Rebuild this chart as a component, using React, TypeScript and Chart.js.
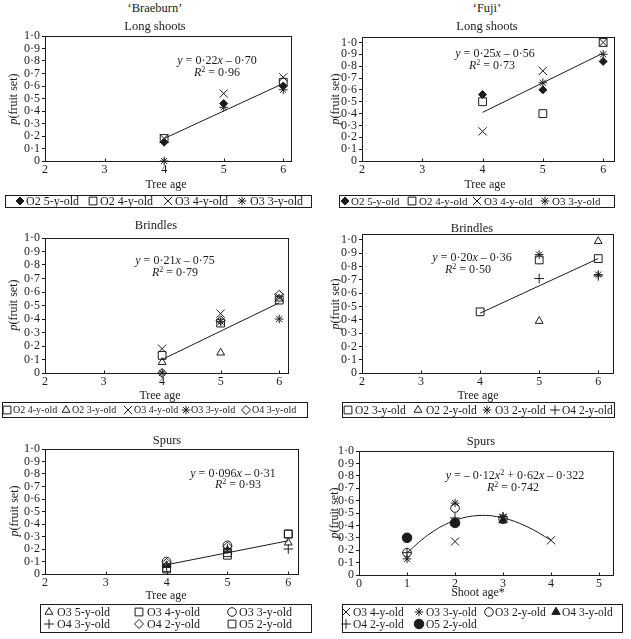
import React, { useEffect, useRef } from 'react';
import { Chart, registerables } from 'chart.js';
Chart.register(...registerables);

const FONT = '"Liberation Serif", "Times New Roman", Times, serif';
const INK = '#1c1c1c';

// ---------------- data ----------------
const treeAge = [4, 5, 6];
const shootAge = [1, 2, 3, 4];

// 'Braeburn' long shoots
const bLongO2y5 = [0.15, 0.46, 0.6];
const bLongO2y4 = [0.18, null, 0.63];
const bLongO3y4 = [0.18, 0.54, 0.67];
const bLongO3y3 = [0.0, 0.43, 0.57];
const bLongFitX = [4, 6];
const bLongFitY = [0.18, 0.62];

// 'Fuji' long shoots
const fLongO2y5 = [0.56, 0.6, 0.84];
const fLongO2y4 = [0.5, 0.4, 1.0];
const fLongO3y4 = [0.25, 0.76, 1.0];
const fLongO3y3 = [null, 0.66, 0.9];
const fLongFitX = [4, 6];
const fLongFitY = [0.41, 0.91];

// 'Braeburn' brindles
const bBrO2y4 = [0.13, 0.37, 0.54];
const bBrO2y3 = [0.08, 0.15, 0.55];
const bBrO3y4 = [0.18, 0.44, 0.56];
const bBrO3y3 = [0.0, 0.38, 0.4];
const bBrO4y3 = [0.0, 0.39, 0.58];
const bBrFitX = [4, 6];
const bBrFitY = [0.1, 0.52];

// 'Fuji' brindles
const fBrO2y3 = [0.46, 0.85, 0.86];
const fBrO2y2 = [null, 0.39, 0.99];
const fBrO3y2 = [null, 0.89, 0.74];
const fBrO4y2 = [null, 0.71, 0.73];
const fBrFitX = [4, 6];
const fBrFitY = [0.45, 0.86];

// 'Braeburn' spurs
const bSpO3y5 = [0.07, 0.19, 0.25];
const bSpO3y4 = [0.04, 0.15, 0.32];
const bSpO3y3 = [0.1, 0.23, null];
const bSpO4y3 = [0.06, 0.2, 0.2];
const bSpO4y2 = [0.09, 0.22, null];
const bSpO5y2 = [0.05, 0.17, 0.32];
const bSpFitX = [4, 6];
const bSpFitY = [0.074, 0.266];

// 'Fuji' spurs (x = shoot age)
const fSpO3y4 = [null, 0.27, 0.46, 0.28];
const fSpO3y3 = [0.13, 0.58, 0.47, null];
const fSpO3y2 = [0.18, 0.54, 0.45, null];
const fSpO4y3 = [null, 0.42, 0.44, null];
const fSpO4y2 = [0.18, 0.46, 0.47, null];
const fSpO5y2 = [0.3, 0.42, null, null];
const fSpCurveX = [1, 1.5, 2, 2.5, 3, 3.5, 4];
const fSpCurveY = [0.18, 0.34, 0.44, 0.48, 0.46, 0.39, 0.28];

// ---------------- markers ----------------
type MarkKey = 'diamondF' | 'square' | 'xmark' | 'star' | 'tri' | 'triF' | 'diamond' | 'circle' | 'circleF' | 'plus';
const MARKS: Record<MarkKey, { style: string; r: number; filled: boolean }> = {
  diamondF: { style: 'rectRot', r: 4, filled: true },
  square: { style: 'rect', r: 5.5, filled: false },
  xmark: { style: 'crossRot', r: 5.8, filled: false },
  star: { style: 'star', r: 4.3, filled: false },
  tri: { style: 'triangle', r: 4.5, filled: false },
  triF: { style: 'triangle', r: 4.8, filled: true },
  diamond: { style: 'rectRot', r: 4.5, filled: false },
  circle: { style: 'circle', r: 4.3, filled: false },
  circleF: { style: 'circle', r: 4.8, filled: true },
  plus: { style: 'cross', r: 4.8, filled: false },
};

type Series = { label: string; ys: (number | null)[]; mark: MarkKey };
type PanelSpec = {
  L: number; T: number; R: number; B: number;
  xMin: number; xMax: number; yMax: number;
  xs: number[]; series: Series[];
  fitX: number[]; fitY: number[]; curve?: boolean;
};

const PANELS: PanelSpec[] = [
  {
    L: 45, T: 36, R: 291, B: 161, xMin: 2, xMax: 6.13, yMax: 1.0, xs: treeAge,
    series: [
      { label: 'O2 5-y-old', ys: bLongO2y5, mark: 'diamondF' },
      { label: 'O2 4-y-old', ys: bLongO2y4, mark: 'square' },
      { label: 'O3 4-y-old', ys: bLongO3y4, mark: 'xmark' },
      { label: 'O3 3-y-old', ys: bLongO3y3, mark: 'star' },
    ],
    fitX: bLongFitX, fitY: bLongFitY,
  },
  {
    L: 362, T: 37, R: 614, B: 161, xMin: 2, xMax: 6.18, yMax: 1.046, xs: treeAge,
    series: [
      { label: 'O2 5-y-old', ys: fLongO2y5, mark: 'diamondF' },
      { label: 'O2 4-y-old', ys: fLongO2y4, mark: 'square' },
      { label: 'O3 4-y-old', ys: fLongO3y4, mark: 'xmark' },
      { label: 'O3 3-y-old', ys: fLongO3y3, mark: 'star' },
    ],
    fitX: fLongFitX, fitY: fLongFitY,
  },
  {
    L: 45, T: 238, R: 288, B: 373, xMin: 2, xMax: 6.15, yMax: 1.0, xs: treeAge,
    series: [
      { label: 'O2 4-y-old', ys: bBrO2y4, mark: 'square' },
      { label: 'O2 3-y-old', ys: bBrO2y3, mark: 'tri' },
      { label: 'O3 4-y-old', ys: bBrO3y4, mark: 'xmark' },
      { label: 'O3 3-y-old', ys: bBrO3y3, mark: 'star' },
      { label: 'O4 3-y-old', ys: bBrO4y3, mark: 'diamond' },
    ],
    fitX: bBrFitX, fitY: bBrFitY,
  },
  {
    L: 362, T: 234, R: 613, B: 373, xMin: 2, xMax: 6.25, yMax: 1.045, xs: treeAge,
    series: [
      { label: 'O2 3-y-old', ys: fBrO2y3, mark: 'square' },
      { label: 'O2 2-y-old', ys: fBrO2y2, mark: 'tri' },
      { label: 'O3 2-y-old', ys: fBrO3y2, mark: 'star' },
      { label: 'O4 2-y-old', ys: fBrO4y2, mark: 'plus' },
    ],
    fitX: fBrFitX, fitY: fBrFitY,
  },
  {
    L: 45, T: 449, R: 298, B: 574, xMin: 2, xMax: 6.16, yMax: 1.0, xs: treeAge,
    series: [
      { label: 'O3 5-y-old', ys: bSpO3y5, mark: 'tri' },
      { label: 'O3 4-y-old', ys: bSpO3y4, mark: 'square' },
      { label: 'O3 3-y-old', ys: bSpO3y3, mark: 'circle' },
      { label: 'O4 3-y-old', ys: bSpO4y3, mark: 'plus' },
      { label: 'O4 2-y-old', ys: bSpO4y2, mark: 'diamond' },
      { label: 'O5 2-y-old', ys: bSpO5y2, mark: 'square' },
    ],
    fitX: bSpFitX, fitY: bSpFitY,
  },
  {
    L: 359, T: 451, R: 613, B: 575, xMin: 0, xMax: 5.29, yMax: 1.0, xs: shootAge,
    series: [
      { label: 'O3 4-y-old', ys: fSpO3y4, mark: 'xmark' },
      { label: 'O3 3-y-old', ys: fSpO3y3, mark: 'star' },
      { label: 'O3 2-y-old', ys: fSpO3y2, mark: 'circle' },
      { label: 'O4 3-y-old', ys: fSpO4y3, mark: 'triF' },
      { label: 'O4 2-y-old', ys: fSpO4y2, mark: 'plus' },
      { label: 'O5 2-y-old', ys: fSpO5y2, mark: 'circleF' },
    ],
    fitX: fSpCurveX, fitY: fSpCurveY, curve: true,
  },
];

// legend layout: box + font size + per-item [symbol x, text x, row y]
const LEGENDS = [
  { box: [5, 195, 307, 13], fs: 12, items: [[20, 26, 201], [93, 100, 201], [168, 175, 201], [242, 250, 201]] },
  { box: [339, 195, 276, 13], fs: 11, items: [[345, 351, 201], [412, 419, 201], [477, 484, 201], [545, 552, 201]] },
  { box: [2, 402, 306, 16], fs: 10, items: [[7, 13, 410], [66, 72, 410], [128, 134, 410], [186, 191, 410], [246, 252, 410]] },
  { box: [342, 402, 273, 16], fs: 11.5, items: [[348, 355, 410], [418, 426, 410], [487, 495, 410], [555, 562, 410]] },
  { box: [40, 604, 272, 29], fs: 12, items: [[49, 57, 612], [139, 147, 612], [232, 239, 612], [49, 57, 624], [139, 147, 624], [232, 239, 624]] },
  { box: [342, 604, 281, 29], fs: 11.5, items: [[346, 353, 612], [419, 426, 612], [489, 495, 612], [556, 562, 612], [346, 353, 624], [419, 426, 624]] },
];

const YW = 32, PT = 10, PR = 10, XH = 18;

const yTickLabel = (v: number) => (v === 0 ? '0' : Number(v).toFixed(1).replace('.', '\u00b7'));

const framePlugin = {
  id: 'frame',
  afterDraw(chart: any) {
    const { ctx, chartArea: a, scales } = chart;
    ctx.save();
    ctx.strokeStyle = INK;
    ctx.lineWidth = 1;
    const l = Math.round(a.left) + 0.5, t = Math.round(a.top) + 0.5;
    const r = Math.round(a.right) + 0.5, b = Math.round(a.bottom) + 0.5;
    ctx.strokeRect(l, t, r - l, b - t);
    ctx.beginPath();
    const xs = scales.x;
    xs.ticks.forEach((tk: any) => {
      const px = Math.round(xs.getPixelForValue(tk.value)) + 0.5;
      ctx.moveTo(px, b);
      ctx.lineTo(px, b - 3);
    });
    ctx.stroke();
    ctx.restore();
  },
};

function buildConfig(p: PanelSpec): any {
  const datasets: any[] = p.series.map((s) => {
    const m = MARKS[s.mark];
    const data = p.xs
      .map((x, i) => (s.ys[i] === null || s.ys[i] === undefined ? null : { x, y: s.ys[i] }))
      .filter((d) => d !== null);
    return {
      type: 'scatter',
      label: s.label,
      data,
      pointStyle: m.style,
      pointRadius: m.r,
      pointBorderWidth: 1,
      pointBorderColor: INK,
      pointBackgroundColor: m.filled ? INK : 'rgba(0,0,0,0)',
      showLine: false,
      clip: false,
      order: 1,
    };
  });
  datasets.push({
    type: 'line',
    label: 'fit',
    data: p.fitX.map((x, i) => ({ x, y: p.fitY[i] })),
    borderColor: INK,
    borderWidth: 1,
    pointRadius: 0,
    showLine: true,
    fill: false,
    tension: p.curve ? 0.4 : 0,
    clip: false,
    order: 5,
  });
  const font = { family: FONT, size: 12 };
  return {
    type: 'scatter',
    data: { datasets },
    plugins: [framePlugin],
    options: {
      animation: false,
      responsive: false,
      devicePixelRatio: 1,
      events: [],
      layout: { padding: { left: 0, top: PT, right: PR, bottom: 0 } },
      plugins: { legend: { display: false }, tooltip: { enabled: false }, title: { display: false } },
      scales: {
        x: {
          type: 'linear',
          min: p.xMin,
          max: p.xMax,
          ticks: { stepSize: 1, includeBounds: false, autoSkip: false, maxRotation: 0, padding: 2, font, color: INK },
          grid: { display: false, drawTicks: false, tickLength: 0 },
          border: { display: false },
          afterFit: (s: any) => { s.height = XH; },
        },
        y: {
          type: 'linear',
          min: 0,
          max: p.yMax,
          ticks: { stepSize: 0.1, includeBounds: false, autoSkip: false, padding: 2, font, color: INK, callback: (v: any) => yTickLabel(Number(v)) },
          grid: { display: true, drawOnChartArea: false, drawTicks: true, tickLength: 3, color: INK, lineWidth: 1 },
          border: { display: false },
          afterFit: (s: any) => { s.width = YW; },
        },
      },
    },
  };
}

function Panel({ p }: { p: PanelSpec }) {
  const ref = useRef<HTMLCanvasElement | null>(null);
  const W = p.R - p.L + YW + PR;
  const H = p.B - p.T + PT + XH;
  useEffect(() => {
    if (!ref.current) return;
    const chart = new Chart(ref.current, buildConfig(p));
    return () => chart.destroy();
  }, []);
  return (
    <canvas
      ref={ref}
      width={W}
      height={H}
      style={{ position: 'absolute', left: p.L - YW, top: p.T - PT, width: W, height: H }}
    />
  );
}

function drawMark(ctx: CanvasRenderingContext2D, key: MarkKey, x: number, y: number) {
  const { style, r, filled } = MARKS[key];
  ctx.beginPath();
  const h = r * Math.SQRT1_2;
  if (style === 'rectRot') {
    ctx.moveTo(x - r, y); ctx.lineTo(x, y - r); ctx.lineTo(x + r, y); ctx.lineTo(x, y + r); ctx.closePath();
  } else if (style === 'rect') {
    ctx.rect(x - h, y - h, 2 * h, 2 * h);
  } else if (style === 'crossRot') {
    ctx.moveTo(x - h, y - h); ctx.lineTo(x + h, y + h); ctx.moveTo(x + h, y - h); ctx.lineTo(x - h, y + h);
  } else if (style === 'cross') {
    ctx.moveTo(x - r, y); ctx.lineTo(x + r, y); ctx.moveTo(x, y - r); ctx.lineTo(x, y + r);
  } else if (style === 'star') {
    ctx.moveTo(x - r, y); ctx.lineTo(x + r, y); ctx.moveTo(x, y - r); ctx.lineTo(x, y + r);
    ctx.moveTo(x - h, y - h); ctx.lineTo(x + h, y + h); ctx.moveTo(x + h, y - h); ctx.lineTo(x - h, y + h);
  } else if (style === 'triangle') {
    for (let k = 0; k < 3; k++) {
      const a = (k * 2 * Math.PI) / 3;
      const px = x + Math.sin(a) * r, py = y - Math.cos(a) * r;
      if (k === 0) ctx.moveTo(px, py); else ctx.lineTo(px, py);
    }
    ctx.closePath();
  } else if (style === 'circle') {
    ctx.arc(x, y, r, 0, Math.PI * 2);
  }
  ctx.fillStyle = INK;
  ctx.strokeStyle = INK;
  ctx.lineWidth = 1;
  if (filled) ctx.fill();
  ctx.stroke();
}

function LegendMark({ mark, x, y }: { mark: MarkKey; x: number; y: number }) {
  const ref = useRef<HTMLCanvasElement | null>(null);
  useEffect(() => {
    const c = ref.current;
    if (!c) return;
    const ctx = c.getContext('2d');
    if (!ctx) return;
    ctx.clearRect(0, 0, 16, 16);
    drawMark(ctx, mark, 8, 8);
  }, [mark]);
  return <canvas ref={ref} width={16} height={16} style={{ position: 'absolute', left: x - 8, top: y - 8, width: 16, height: 16 }} />;
}

function Txt({ x, y, size = 12, rotate = false, children }: { x: number; y: number; size?: number; rotate?: boolean; children: any }) {
  return (
    <div
      style={{
        position: 'absolute', left: x, top: y, fontSize: size, lineHeight: 1, whiteSpace: 'nowrap',
        transform: `translate(-50%, -50%)${rotate ? ' rotate(-90deg)' : ''}`,
      }}
    >
      {children}
    </div>
  );
}

const sup = { fontSize: 8, position: 'relative', top: -4 } as const;

function Eq({ x, y, a }: { x: number; y: number; a: any }) {
  return <Txt x={x} y={y} size={12}>{a}</Txt>;
}

export default function App() {
  const yTitleY = [99, 99, 305, 304, 511, 513];
  const yTitleX = [13, 335, 13, 335, 14, 334];
  return (
    <div style={{ position: 'absolute', left: 0, top: 0, width: 631, height: 639, background: '#fff', fontFamily: FONT, color: INK, overflow: 'hidden' }}>
      {PANELS.map((p, i) => <Panel key={i} p={p} />)}

      <Txt x={155} y={8} size={12.5}>{'\u2018Braeburn\u2019'}</Txt>
      <Txt x={487} y={8} size={12.5}>{'\u2018Fuji\u2019'}</Txt>
      <Txt x={155} y={26} size={12.5}>Long shoots</Txt>
      <Txt x={487} y={26} size={12.5}>Long shoots</Txt>
      <Txt x={156} y={225} size={12.5}>Brindles</Txt>
      <Txt x={472} y={228} size={12.5}>Brindles</Txt>
      <Txt x={167} y={440} size={12.5}>Spurs</Txt>
      <Txt x={481} y={441} size={12.5}>Spurs</Txt>

      <Txt x={166} y={184}>Tree age</Txt>
      <Txt x={485} y={184}>Tree age</Txt>
      <Txt x={160} y={395}>Tree age</Txt>
      <Txt x={478} y={395}>Tree age</Txt>
      <Txt x={166} y={595}>Tree age</Txt>
      <Txt x={478} y={592}>Shoot age*</Txt>

      {yTitleY.map((yy, i) => (
        <Txt key={'yt' + i} x={yTitleX[i]} y={yy} rotate>
          <i>p</i>(fruit set)
        </Txt>
      ))}

      <Eq x={217} y={60} a={<span><i>y</i> = 0·22<i>x</i> – 0·70</span>} />
      <Eq x={217} y={72} a={<span><i>R</i><span style={sup}>2</span> = 0·96</span>} />
      <Eq x={495} y={53} a={<span><i>y</i> = 0·25<i>x</i> – 0·56</span>} />
      <Eq x={492} y={65} a={<span><i>R</i><span style={sup}>2</span> = 0·73</span>} />
      <Eq x={175} y={260} a={<span><i>y</i> = 0·21<i>x</i> – 0·75</span>} />
      <Eq x={175} y={272} a={<span><i>R</i><span style={sup}>2</span> = 0·79</span>} />
      <Eq x={472} y={257} a={<span><i>y</i> = 0·20<i>x</i> – 0·36</span>} />
      <Eq x={468} y={269} a={<span><i>R</i><span style={sup}>2</span> = 0·50</span>} />
      <Eq x={233} y={473} a={<span><i>y</i> = 0·096<i>x</i> – 0·31</span>} />
      <Eq x={238} y={484} a={<span><i>R</i><span style={sup}>2</span> = 0·93</span>} />
      <Eq x={515} y={475} a={<span><i>y</i> = – 0·12<i>x</i><span style={sup}>2</span> + 0·62<i>x</i> – 0·322</span>} />
      <Eq x={513} y={487} a={<span><i>R</i><span style={sup}>2</span> = 0·742</span>} />

      {LEGENDS.map((lg, li) => {
        const [bx, by, bw, bh] = lg.box;
        const series = PANELS[li].series;
        return (
          <React.Fragment key={'lg' + li}>
            <div style={{ position: 'absolute', left: bx, top: by, width: bw, height: bh, border: `1px solid ${INK}`, boxSizing: 'border-box' }} />
            {lg.items.map((it, k) => (
              <React.Fragment key={k}>
                <LegendMark mark={series[k].mark} x={it[0]} y={it[2]} />
                <div style={{ position: 'absolute', left: it[1], top: it[2] - 7, fontSize: lg.fs, lineHeight: '14px', whiteSpace: 'nowrap' }}>
                  {series[k].label}
                </div>
              </React.Fragment>
            ))}
          </React.Fragment>
        );
      })}
    </div>
  );
}
